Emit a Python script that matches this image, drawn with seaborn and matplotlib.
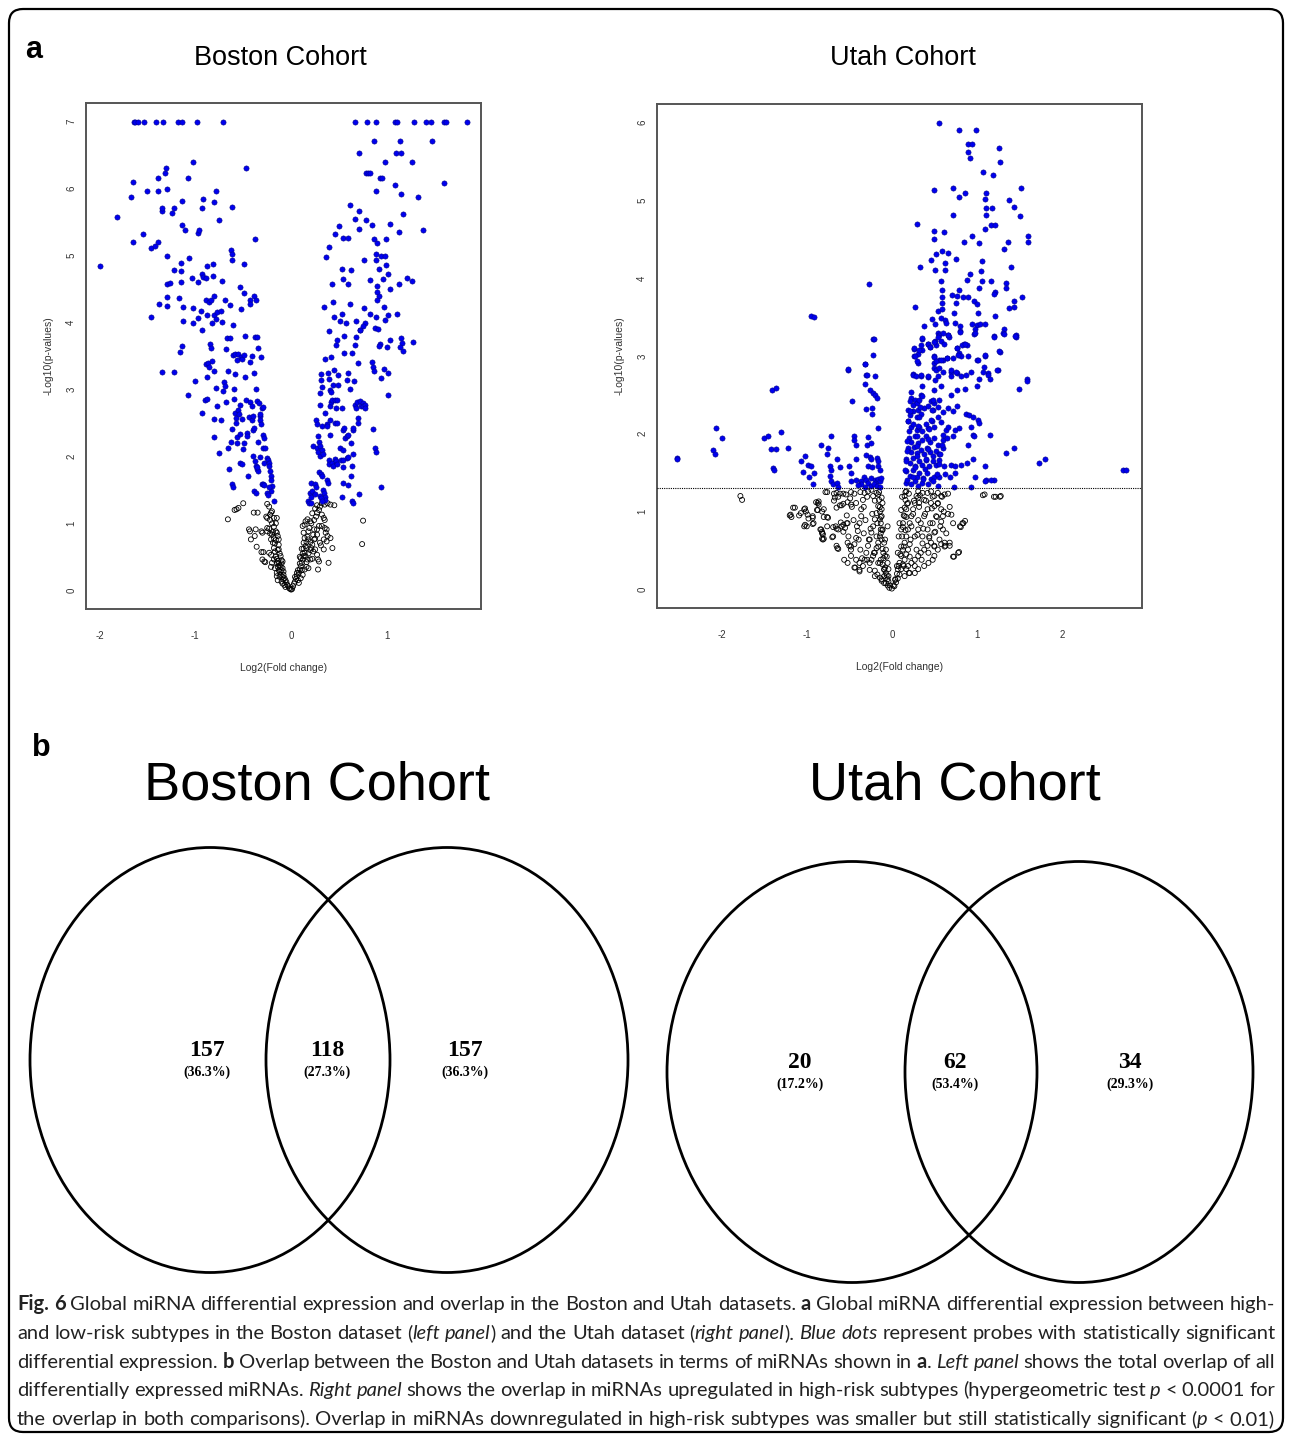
import numpy as np
import pandas as pd
import matplotlib
matplotlib.use("Agg")
import matplotlib.pyplot as plt
import seaborn as sns
from matplotlib.patches import Ellipse, FancyBboxPatch
from matplotlib.transforms import IdentityTransform

# ---------------- data ----------------
boston_sig = [
    (-1.64,7.0),(-1.63,7.0),(-1.60,7.0),(-1.53,7.0),(-1.41,7.0),(-1.34,7.0),(-1.18,7.0),(-1.14,7.0),(-0.98,7.0),(-0.71,7.0),
    (0.67,7.0),(0.79,7.0),(0.89,7.0),(1.08,7.0),(1.10,7.0),(1.28,7.0),(1.41,7.0),(1.46,7.0),(1.59,7.0),(1.61,7.0),(1.83,7.0),
    (-1.99,4.84),(-1.82,5.58),(-1.67,5.88),(-1.65,6.10),(-1.65,5.20),(-1.55,5.33),(-1.50,5.97),(-1.46,5.12),(-1.46,4.09),
    (-1.42,5.15),(-1.39,5.20),(-1.39,6.16),(-1.39,5.97),(-1.38,4.28),(-1.35,5.67),(-1.35,5.71),(-1.32,6.23),(-1.31,6.31),
    (-1.29,5.99),(-1.29,4.99),(-1.30,4.57),(-1.26,4.59),(-1.30,4.38),(-1.29,4.25),(-1.24,5.63),(-1.22,5.71),(-1.22,4.78),
    (-1.17,4.36),(-1.15,4.89),(-1.15,4.77),(-1.15,4.60),(-1.14,5.82),(-1.14,5.45),(-1.11,5.38),(-1.13,4.23),(-1.13,4.03),
    (-1.08,6.16),(-1.07,4.96),(-1.03,4.67),(-1.02,6.40),(-1.02,4.22),(-1.02,3.99),(-0.97,5.34),(-0.96,5.38),(-0.97,4.60),
    (-0.97,4.07),(-0.94,4.17),(-0.93,5.71),(-0.92,5.85),(-0.93,4.73),(-0.92,4.68),(-0.89,4.66),(-0.88,4.84),(-0.88,4.12),
    (-0.89,4.34),(-0.86,4.31),(-0.84,4.33),(-0.82,4.88),(-0.82,4.69),(-0.81,4.12),(-0.80,4.39),(-0.83,3.99),(-0.81,5.80),
    (-0.78,5.97),(-0.77,4.16),(-0.75,5.53),(-0.73,4.17),(-0.78,4.05),(-0.72,4.01),(-0.72,4.62),(-0.69,4.33),(-0.64,4.26),
    (-0.63,5.09),(-0.62,5.03),(-0.62,4.94),(-0.62,5.72),(-0.61,3.96),(-0.53,4.53),(-0.52,4.20),(-0.49,4.44),(-0.49,4.88),
    (-0.47,6.31),(-0.43,4.33),(-0.43,4.27),(-0.39,4.39),(-0.37,4.34),(-0.38,5.25),
    (0.86,6.71),(0.71,6.53),(0.78,6.23),(0.80,6.23),(0.82,6.23),(0.93,6.16),(0.95,6.16),(0.98,6.40),(0.88,5.97),(0.61,5.76),
    (0.71,5.66),(0.67,5.54),(0.78,5.53),(0.84,5.46),(0.71,5.40),(0.50,5.44),(0.46,5.32),(0.54,5.27),(0.59,5.27),(0.39,5.13),
    (0.36,4.98),(0.86,5.25),(0.90,5.19),(0.99,5.25),(1.03,5.47),(0.89,5.03),(0.94,4.99),(0.98,4.99),(0.76,4.93),(0.89,4.93),
    (0.53,4.80),(0.62,4.78),(0.99,4.86),(0.92,4.80),(0.54,4.65),(0.59,4.58),(1.01,4.73),(0.82,4.64),(0.96,4.65),(0.43,4.57),
    (0.90,4.55),(1.03,4.50),(0.90,4.46),(0.44,4.31),(0.61,4.28),(0.92,4.39),(0.90,4.34),(0.34,4.23),(0.45,4.09),(0.53,4.13),
    (0.51,4.02),(0.57,3.99),(0.68,4.02),(0.76,4.21),(0.82,4.13),(0.88,4.09),(0.97,4.23),(1.01,4.12),(0.98,4.04),(0.77,3.99),
    (0.75,3.95),(0.72,3.89),(0.87,3.92),(0.91,3.91),(0.39,3.87),
    (1.13,6.71),(1.47,6.71),(1.09,6.53),(1.15,6.53),(1.26,6.40),(1.08,6.05),(1.15,5.92),(1.32,5.88),(1.59,6.09),(1.17,5.62),
    (1.38,5.38),(1.12,5.35),(1.21,4.66),(1.26,4.62),(1.12,4.57),(1.10,4.13),(1.15,3.77),(1.27,3.71),(1.16,3.69),
    (1.14,3.64),(1.17,3.57),(1.03,3.74),(1.00,3.64),(0.93,3.68),(0.92,3.65),(1.01,3.24),(0.97,3.30),(1.01,2.91),(0.94,3.17),
    (0.85,3.33),(0.86,3.28),(0.84,3.41),(0.94,1.54),(0.85,2.41),(0.87,2.12),(0.88,2.07),
    (-1.35,3.26),(-1.22,3.26),(-1.16,3.56),(-1.14,3.65),(-1.08,2.92),(-1.00,3.13),(-0.93,3.89),(-0.93,2.65),(-0.89,3.38),
    (-0.87,3.39),(-0.86,3.33),(-0.88,3.18),(-0.90,2.85),(-0.88,2.86),(-0.85,3.68),(-0.84,3.62),(-0.83,3.42),(-0.80,2.29),
    (-0.80,2.56),(-0.80,3.28),(-0.78,3.02),(-0.77,2.75),(-0.75,2.05),(-0.73,2.54),(-0.71,2.97),(-0.70,3.11),(-0.69,3.05),
    (-0.68,3.60),(-0.68,2.82),(-0.66,2.12),(-0.66,3.28),(-0.67,3.77),(-0.64,3.77),(-0.65,1.81),(-0.63,2.22),(-0.62,2.41),
    (-0.62,1.59),(-0.61,1.55),(-0.61,3.52),(-0.59,3.53),(-0.60,3.00),(-0.60,2.86),(-0.59,2.65),(-0.58,2.57),(-0.58,2.50),
    (-0.57,3.44),(-0.55,3.53),(-0.59,3.23),(-0.57,2.29),(-0.56,2.20),(-0.55,2.69),(-0.54,2.64),(-0.53,2.77),(-0.53,2.34),
    (-0.53,1.90),(-0.51,1.89),(-0.52,3.49),(-0.51,3.46),(-0.49,3.52),(-0.51,2.56),(-0.50,2.11),(-0.49,2.20),(-0.48,3.80),
    (-0.48,3.18),(-0.47,2.85),(-0.46,2.35),(-0.46,2.31),(-0.45,1.71),(-0.44,2.59),(-0.43,3.41),(-0.43,2.81),(-0.41,2.76),
    (-0.41,3.50),(-0.41,2.54),(-0.40,2.60),(-0.40,2.01),(-0.40,2.40),(-0.39,2.42),(-0.39,3.24),(-0.38,3.78),(-0.36,3.78),
    (-0.38,1.93),(-0.37,1.85),(-0.36,1.81),(-0.35,1.78),(-0.36,1.84),(-0.39,1.49),(-0.37,1.46),(-0.37,3.00),(-0.36,2.83),
    (-0.35,3.62),(-0.34,2.80),(-0.35,2.21),(-0.33,2.60),(-0.32,2.55),(-0.32,2.64),(-0.31,2.49),(-0.31,3.49),(-0.32,1.99),
    (-0.30,1.59),(-0.29,1.59),(-0.28,1.58),(-0.29,2.32),(-0.28,2.28),(-0.30,2.72),(-0.29,2.74),(-0.29,2.12),(-0.27,2.12),
    (-0.28,1.90),(-0.25,1.98),(-0.24,1.94),(-0.23,1.90),(-0.23,1.86),(-0.22,1.78),(-0.21,1.70),(-0.21,1.64),(-0.20,1.56),
    (-0.21,1.49),(-0.23,1.54),(-0.25,1.45),(-0.24,1.42),(-0.18,1.33),
    (0.18,1.33),(0.19,1.30),(0.21,1.31),(0.20,1.46),(0.22,1.49),(0.21,1.40),(0.21,1.61),(0.23,2.16),(0.25,1.59),(0.26,1.55),
    (0.25,1.44),(0.26,2.55),(0.27,2.49),(0.27,2.12),(0.28,2.07),(0.30,2.01),(0.28,2.30),(0.29,2.21),(0.30,2.16),(0.29,1.76),
    (0.31,1.74),(0.32,1.71),(0.30,2.95),(0.30,2.77),(0.31,3.23),(0.31,3.14),(0.32,3.04),(0.32,2.45),(0.32,2.09),(0.33,2.04),
    (0.33,1.50),(0.34,1.45),(0.35,1.40),(0.35,1.35),(0.30,1.41),(0.31,1.38),(0.32,1.34),(0.35,3.45),(0.35,2.65),(0.37,2.49),
    (0.37,2.45),(0.37,1.65),(0.38,1.60),(0.38,3.24),(0.39,3.15),(0.39,1.95),(0.39,1.89),(0.40,2.76),(0.41,2.99),(0.42,2.96),
    (0.41,2.55),(0.41,2.32),(0.42,2.81),(0.43,2.85),(0.42,3.48),(0.43,1.90),(0.44,1.85),(0.44,3.07),(0.45,3.29),(0.46,1.96),
    (0.47,1.93),(0.48,1.89),(0.46,2.50),(0.48,2.50),(0.46,2.85),(0.48,2.85),(0.47,2.73),(0.47,3.67),(0.48,3.74),(0.49,3.21),
    (0.49,3.07),(0.51,2.12),(0.52,1.95),(0.54,1.94),(0.53,2.73),(0.54,2.40),(0.54,1.60),(0.54,1.84),(0.55,3.80),(0.55,2.43),
    (0.56,2.27),(0.58,2.31),(0.59,2.32),(0.58,1.98),(0.59,1.99),(0.58,3.14),(0.59,1.58),(0.59,3.24),(0.61,3.00),(0.62,1.70),
    (0.62,2.20),(0.63,1.85),(0.63,3.54),(0.64,2.40),(0.64,2.04),(0.65,2.42),(0.66,3.13),(0.67,2.77),(0.67,3.67),(0.68,3.79),
    (0.68,2.72),(0.69,2.81),(0.70,3.39),(0.70,2.57),(0.70,2.50),(0.72,3.89),(0.72,2.83),(0.73,2.75),(0.75,2.80),(0.75,2.75),
    (0.77,2.77),(0.77,2.72),(0.71,1.44),(0.63,1.33),(0.65,1.31),(0.53,1.39),(0.54,2.09),(0.55,3.54),
]

boston_ns = [
    (-0.66,1.06),(-0.59,1.20),(-0.57,1.21),(-0.55,1.23),(-0.50,1.30),(-0.44,0.91),(-0.43,0.88),(-0.42,0.76),(-0.39,1.16),
    (-0.35,1.16),(-0.37,0.91),(-0.38,0.81),(-0.36,0.65),(-0.31,0.88),(-0.30,0.86),(-0.31,0.57),(-0.29,0.57),(-0.30,0.46),
    (-0.28,0.43),(-0.27,0.42),(-0.25,1.29),(-0.23,1.25),(-0.26,1.10),(-0.25,1.08),(-0.22,1.13),(-0.21,1.16),(-0.20,1.18),
    (-0.22,1.05),(-0.18,1.08),(-0.15,1.08),(-0.25,0.93),(-0.25,0.88),(-0.23,0.92),(-0.22,0.85),(-0.20,0.83),(-0.21,0.76),
    (-0.19,0.71),(-0.18,0.63),(-0.17,0.58),(-0.23,0.56),(-0.21,0.53),(-0.21,0.35),(-0.20,0.41),(-0.18,0.46),(-0.16,0.88),
    (-0.15,0.86),(-0.14,0.81),(-0.13,0.76),(-0.13,0.68),(-0.13,0.61),(-0.12,0.55),(-0.11,0.51),(-0.15,0.41),(-0.14,0.35),
    (-0.13,0.30),(-0.15,0.21),(-0.14,0.15),(-0.10,0.45),(-0.10,0.40),(-0.09,0.33),(-0.08,0.28),(-0.08,0.23),(-0.07,0.18),
    (-0.06,0.15),(-0.05,0.12),(-0.04,0.08),(-0.03,0.06),(-0.02,0.03),(-0.01,0.02),(0.00,0.01),(0.01,0.02),(-0.11,0.23),
    (-0.10,0.13),(-0.07,0.08),(-0.09,0.43),(-0.17,0.33),(-0.15,0.26),(-0.12,0.20),(-0.09,0.10),(-0.06,0.05),
    (-0.16,0.50),(-0.15,0.47),(-0.14,0.44),(-0.13,0.40),(-0.12,0.37),(-0.12,0.28),(-0.11,0.35),(-0.10,0.30),(-0.09,0.20),
    (-0.08,0.16),(-0.17,0.70),(-0.18,0.78),(-0.16,0.75),(-0.19,0.87),(-0.18,0.95),(-0.20,1.00),(-0.16,1.00),(-0.14,0.60),
    (0.02,0.06),(0.03,0.10),(0.04,0.13),(0.05,0.17),(0.06,0.21),(0.08,0.26),(0.09,0.31),(0.10,0.36),(0.11,0.41),(0.12,0.46),
    (0.13,0.51),(0.14,0.56),(0.15,0.51),(0.17,0.46),(0.08,0.11),(0.10,0.18),(0.12,0.23),(0.14,0.31),(0.16,0.35),(0.18,0.33),
    (0.13,0.71),(0.14,0.78),(0.13,0.86),(0.12,0.96),(0.14,0.98),(0.15,1.03),(0.17,1.06),(0.20,1.03),(0.21,1.00),(0.18,0.76),
    (0.20,0.72),(0.21,0.63),(0.23,0.58),(0.20,0.46),(0.22,0.47),(0.24,0.76),(0.25,0.77),(0.24,0.91),(0.27,0.91),(0.29,0.96),
    (0.27,0.83),(0.25,0.61),(0.27,0.53),(0.28,0.46),(0.29,0.43),(0.30,0.71),(0.31,0.67),(0.27,1.16),(0.29,1.20),(0.30,1.25),
    (0.32,1.30),(0.35,1.28),(0.38,1.30),(0.41,1.28),(0.45,1.27),(0.32,1.13),(0.34,1.08),(0.35,1.05),(0.32,0.96),(0.35,0.93),
    (0.37,0.91),(0.36,0.86),(0.38,0.81),(0.41,0.78),(0.34,0.76),(0.37,0.73),(0.34,0.61),(0.28,0.31),(0.39,0.41),(0.43,0.63),
    (0.75,1.04),(0.74,0.69),(0.16,0.63),(0.11,0.30),(0.07,0.15),
    (0.04,0.20),(0.06,0.26),(0.07,0.30),(0.09,0.40),(0.10,0.48),(0.12,0.55),(0.13,0.62),(0.15,0.66),(0.16,0.72),(0.17,0.80),
    (0.18,0.88),(0.19,0.93),(0.11,0.62),(0.09,0.50),(0.16,0.42),(0.18,0.55),(0.20,0.60),(0.22,0.68),(0.23,0.83),(0.24,1.05),
    (0.26,1.10),(0.22,1.15),(0.25,1.22),(0.27,1.27),
]

utah_sig = [
    (0.55,6.00),(0.79,5.91),(0.99,5.91),(0.90,5.73),(0.94,5.73),(0.90,5.62),(0.92,5.54),(1.26,5.68),(1.27,5.50),(1.07,5.36),
    (1.19,5.33),(0.50,5.14),(0.72,5.16),(0.79,5.05),(0.86,5.10),(1.11,5.10),(1.09,5.02),(1.52,5.16),(1.38,5.00),(1.44,4.92),
    (1.51,4.80),(1.11,4.90),(1.18,4.90),(1.11,4.81),(0.72,4.81),(0.30,4.70),(1.16,4.68),(1.21,4.68),(1.10,4.63),(0.50,4.61),
    (0.61,4.60),(0.49,4.51),(0.94,4.54),(0.85,4.47),(1.02,4.45),(1.60,4.54),(1.60,4.47),(1.36,4.47),(1.32,4.37),(0.59,4.35),
    (0.52,4.31),(0.66,4.32),(0.46,4.24),(0.75,4.25),(0.63,4.20),(1.06,4.22),(0.33,4.14),(0.51,4.11),(0.62,4.11),(1.40,4.14),
    (1.05,4.09),(0.92,4.06),(0.88,3.98),(0.58,3.97),(1.06,3.97),(1.16,3.96),(-0.27,3.92),(1.34,3.94),(1.34,3.88),(1.02,3.88),
    (0.59,3.85),(0.79,3.85),(1.21,3.82),(1.20,3.80),(0.71,3.78),(0.77,3.77),(0.84,3.76),(0.89,3.76),(0.59,3.76),(1.53,3.76),
    (0.59,3.68),(0.97,3.71),(1.00,3.67),(0.75,3.68),(1.44,3.71),(1.43,3.63),(0.27,3.63),(0.54,3.58),(0.59,3.60),(1.38,3.62),
    (1.01,3.55),(0.73,3.55),(-0.95,3.52),(-0.91,3.50),(1.21,3.52),(0.47,3.47),(0.58,3.49),(0.62,3.46),(0.64,3.43),(0.74,3.43),
    (0.51,3.41),(0.94,3.41),(1.00,3.40),(1.04,3.41),(1.10,3.41),(0.38,3.38),(0.80,3.38),(0.80,3.32),(0.98,3.35),(0.97,3.28),
    (0.54,3.30),(0.56,3.27),(0.66,3.27),(0.67,3.25),(1.32,3.35),(1.31,3.29),(1.46,3.27),(1.46,3.25),(1.20,3.26),(0.36,3.22),
    (0.43,3.16),(0.45,3.12),(0.51,3.19),(0.52,3.14),(0.58,3.19),(0.61,3.16),(0.85,3.16),(0.88,3.14),(-0.22,3.22),(-0.21,3.22),
    (0.26,3.09),(0.36,3.08),(0.77,3.10),(0.79,3.04),(1.27,3.05),(1.09,3.00),(-0.22,3.01),(0.26,3.00),(0.31,3.02),(0.31,2.91),
    (0.50,3.00),(0.49,2.91),(0.56,2.95),(0.60,2.95),(0.65,2.97),(0.72,2.97),(0.81,3.00),(0.89,3.00),(1.00,2.95),(-0.52,2.82),
    (-0.31,2.90),(-0.30,2.75),(-0.20,2.74),(0.25,2.77),(0.34,2.74),(0.42,2.73),(0.54,2.74),(0.70,2.80),(0.76,2.78),(1.08,2.86),
    (1.13,2.78),(1.25,2.82),(1.59,2.70),
    (-2.53,1.69),(-2.53,1.67),(-2.07,2.07),(-2.00,1.94),(-2.10,1.79),(-2.08,1.74),(-1.41,2.56),(-1.36,2.59),(-1.30,2.02),
    (-1.50,1.95),(-1.45,1.97),(-1.42,1.80),(-1.36,1.80),(-1.22,1.82),(-1.40,1.56),(-1.39,1.53),(-1.07,1.65),(-1.02,1.72),
    (-0.99,1.60),(-0.95,1.59),(-0.92,1.50),(-1.04,1.51),(-0.97,1.45),(-0.93,1.35),(-0.83,1.86),(-0.75,1.82),(-0.71,1.97),
    (-0.76,1.74),(-0.65,1.68),(-0.73,1.58),(-0.72,1.54),(-0.73,1.46),(-0.71,1.39),(-0.69,1.36),(-0.65,1.37),(-0.63,1.32),
    (-0.61,1.57),(-0.51,2.83),(-0.47,2.42),(-0.44,1.97),(-0.44,1.92),(-0.42,1.85),(-0.42,1.68),(-0.50,1.59),(-0.48,1.50),
    (-0.48,1.39),(-0.42,1.40),(-0.36,1.39),(-0.31,2.90),(-0.32,2.64),(-0.29,2.76),(-0.26,2.56),(-0.22,2.52),(-0.23,2.33),
    (-0.23,2.26),(-0.30,2.32),(-0.20,2.50),(-0.18,2.46),(-0.16,2.07),(-0.28,1.96),(-0.29,1.86),(-0.24,1.88),(-0.30,1.73),
    (-0.26,1.70),(-0.24,1.67),(-0.28,1.58),(-0.23,1.57),(-0.17,1.69),(-0.16,1.65),(-0.16,1.58),(-0.14,1.54),(-0.33,1.45),
    (-0.30,1.41),(-0.24,1.43),(-0.20,1.41),(-0.18,1.39),(-0.16,1.42),(-0.14,1.39),(-0.13,1.43),(-0.28,1.37),(-0.24,1.33),
    (-0.21,1.35),(-0.17,1.33),(-0.14,1.32),(-0.32,1.32),(-0.36,1.36),(-0.40,1.34),
    (0.26,3.10),(0.27,3.00),(0.30,2.94),(0.32,3.08),(0.34,3.14),(0.36,3.23),(0.43,3.16),(0.45,3.12),(0.50,3.18),(0.54,3.25),
    (0.60,3.29),(0.66,3.27),(0.49,2.99),(0.52,2.94),(0.58,2.95),(0.65,2.97),(0.77,3.10),(0.82,3.14),(0.86,3.16),(0.78,3.01),
    (0.80,3.31),(0.98,3.29),(1.20,3.25),(1.32,3.28),(1.45,3.26),(1.01,2.95),(1.09,3.01),(1.26,3.06),(0.25,2.76),(0.28,2.74),
    (0.34,2.76),(0.43,2.74),(0.49,2.85),(0.52,2.82),(0.56,2.84),(0.60,2.80),(0.51,2.69),(0.58,2.62),(0.70,2.82),(0.70,2.74),
    (0.75,2.80),(0.81,2.74),(0.87,2.76),(0.93,2.80),(1.03,2.70),(1.07,2.79),(1.13,2.76),(1.15,2.70),(1.24,2.82),(1.50,2.57),
    (1.59,2.68),(0.70,2.50),(0.77,2.56),(0.86,2.57),(1.00,2.61),(0.22,2.46),(0.25,2.37),(0.27,2.44),(0.29,2.40),(0.32,2.44),
    (0.34,2.50),(0.19,2.31),(0.21,2.24),(0.25,2.29),(0.29,2.22),(0.31,2.30),(0.34,2.26),(0.38,2.33),(0.42,2.36),(0.46,2.42),
    (0.48,2.31),(0.50,2.39),(0.54,2.35),(0.56,2.44),(0.60,2.28),(0.66,2.33),(0.72,2.29),(0.77,2.36),(0.87,2.26),(0.91,2.24),
    (0.95,2.21),(1.01,2.18),(0.19,2.16),(0.22,2.09),(0.25,2.13),(0.29,2.05),(0.32,2.09),(0.36,2.03),(0.40,2.12),(0.43,2.07),
    (0.47,2.16),(0.50,2.09),(0.54,2.21),(0.58,2.15),(0.64,2.05),(0.66,2.09),(0.74,2.05),(0.79,2.07),(0.93,2.09),(1.02,2.14),
    (0.20,1.94),(0.23,1.90),(0.27,1.97),(0.31,1.88),(0.36,1.92),(0.40,1.97),(0.45,1.90),(0.49,1.94),(0.54,1.86),(0.60,1.92),
    (0.65,1.94),(0.72,1.97),(0.95,1.99),(0.97,1.97),(1.15,1.98),(0.19,1.82),(0.23,1.77),(0.26,1.83),(0.30,1.75),(0.34,1.79),
    (0.38,1.74),(0.41,1.82),(0.45,1.76),(0.48,1.72),(0.52,1.78),(0.56,1.74),(0.60,1.82),(0.90,1.86),(1.34,1.75),(1.43,1.82),
    (0.17,1.67),(0.21,1.62),(0.25,1.69),(0.27,1.58),(0.32,1.65),(0.36,1.60),(0.40,1.66),(0.44,1.58),(0.48,1.65),(0.52,1.60),
    (0.56,1.66),(0.61,1.59),(0.70,1.60),(0.74,1.58),(0.81,1.60),(0.88,1.62),(0.95,1.67),(1.73,1.62),(1.80,1.68),(2.72,1.54),
    (2.75,1.54),(1.09,1.59),(1.11,1.40),(1.20,1.40),(0.17,1.52),(0.21,1.46),(0.25,1.54),(0.29,1.45),(0.32,1.50),(0.37,1.43),
    (0.41,1.49),(0.46,1.42),(0.50,1.45),(0.56,1.44),(0.62,1.48),(0.68,1.45),(0.74,1.50),(0.98,1.45),(0.17,1.37),(0.22,1.35),
    (0.27,1.39),(0.31,1.33),(0.36,1.37),(0.42,1.35),(0.48,1.39),(0.54,1.33),(0.73,1.32),(0.93,1.32),(1.10,1.39),(1.17,1.40),
    (0.18,1.40),(0.16,1.53),(0.17,1.65),(0.18,1.78),(0.18,1.91),(0.20,2.03),(0.19,2.16),(0.21,2.29),(0.21,2.42),(0.23,2.54),
    (0.25,1.44),(0.27,1.57),(0.29,1.72),(0.29,1.84),(0.30,1.97),(0.31,2.10),(0.32,2.22),(0.33,2.35),(0.35,2.48),(0.36,2.61),
    (0.37,1.42),(0.39,1.55),(0.40,1.67),(0.42,1.80),(0.43,1.93),(0.44,2.06),(0.46,2.18),(0.47,2.31),(0.48,2.44),(0.49,2.56),
    (0.53,1.48),(0.55,1.61),(0.57,1.74),(0.59,1.86),(0.60,1.99),
]

utah_ns = [
    (-1.78,1.20),(-1.76,1.15),(-1.19,0.96),(-1.18,0.93),(-1.14,1.05),(-1.07,0.98),(-1.03,1.03),(-1.01,1.00),(-0.99,0.96),
    (-0.98,0.91),(-1.02,0.83),(-1.00,0.81),(-0.92,0.85),(-0.93,0.94),(-0.86,1.13),(-0.86,1.09),(-0.80,1.03),(-0.83,0.77),
    (-0.81,0.71),(-0.80,0.65),(-0.75,0.92),(-0.76,0.81),(-0.76,1.25),(-0.67,1.18),(-0.65,1.24),(-0.61,1.23),(-0.54,1.22),
    (-0.48,1.25),(-0.44,1.23),(-0.65,1.05),(-0.61,1.08),(-0.57,1.10),(-0.52,1.12),(-0.48,1.09),(-0.42,1.11),(-0.69,0.68),
    (-0.63,0.77),(-0.60,0.86),(-0.57,0.83),(-0.55,0.79),(-0.52,0.85),(-0.65,0.56),(-0.63,0.52),(-0.52,0.60),(-0.50,0.56),
    (-0.48,0.51),(-0.44,0.58),(-0.42,0.66),(-0.40,0.75),(-0.38,0.85),(-0.36,0.94),(-0.36,1.03),(-0.34,1.15),(-0.32,1.24),
    (-0.28,1.26),(-0.24,1.28),(-0.22,1.20),(-0.18,1.24),(-0.16,1.22),(-0.43,0.28),(-0.38,0.25),(-0.34,0.30),(-0.32,0.38),
    (-0.30,0.47),(-0.28,0.56),(-0.26,0.64),(-0.24,0.73),(-0.22,0.81),(-0.20,0.90),(-0.18,0.98),(-0.16,1.07),(-0.26,0.34),
    (-0.24,0.38),(-0.22,0.43),(-0.20,0.47),(-0.18,0.53),(-0.16,0.60),(-0.14,0.68),(-0.13,0.77),(-0.13,0.85),(-0.12,0.94),
    (-0.12,1.03),(-0.11,1.11),(-0.12,1.18),(-0.20,0.24),(-0.17,0.19),(-0.14,0.15),(-0.12,0.11),(-0.09,0.08),(-0.05,0.05),
    (-0.03,0.02),(0.00,0.01),(-0.16,0.34),(-0.13,0.38),(-0.11,0.32),(-0.09,0.26),(-0.09,0.17),(-0.07,0.21),(-0.05,0.13),
    (-0.11,0.77),(-0.09,0.60),(-0.08,0.43),(-0.07,0.51),(-0.05,0.34),(-0.04,0.26),(-0.56,0.38),(-0.52,0.34),(-0.42,0.38),
    (-0.38,0.34),(-0.48,0.43),(-0.89,1.12),(-0.87,1.02),(-0.84,0.77),(-0.82,0.72),(-0.82,0.65),(-0.69,0.80),(-0.65,0.78),
    (-0.02,0.05),(-0.04,0.10),(-0.06,0.18),(-0.08,0.28),(-0.10,0.40),(-0.11,0.52),(-0.12,0.64),(-0.13,0.72),(-0.14,0.90),
    (-0.14,1.00),(-0.15,1.15),(-0.15,1.25),
    (-1.16,1.05),(-1.20,0.95),(-1.09,0.95),(-1.02,1.04),(-1.03,0.81),(-0.93,0.92),(-0.93,0.84),(-0.87,1.11),(-0.88,1.02),
    (-0.82,1.00),(-0.80,0.93),(-0.82,0.74),(-0.81,0.64),(-0.76,0.93),(-0.78,1.25),(-0.68,1.23),(-0.68,1.14),(-0.66,0.81),
    (-0.64,0.53),(-0.70,0.67),(-0.63,1.19),(-0.59,1.08),(-0.57,1.23),(-0.59,0.81),(-0.57,0.74),(-0.53,0.95),(-0.53,0.85),
    (-0.51,0.68),(-0.49,1.17),(-0.47,1.06),(-0.48,0.55),(-0.45,0.89),(-0.44,0.28),(-0.41,0.81),(-0.39,0.64),(-0.38,0.23),
    (-0.37,1.25),(-0.37,0.51),(-0.35,0.40),(-0.33,0.72),(-0.33,1.06),(-0.31,0.89),(-0.29,1.19),(-0.29,0.38),(-0.27,0.64),
    (-0.26,0.25),(-0.25,0.78),(-0.23,0.97),(-0.21,0.47),(-0.20,1.14),(-0.20,0.17),(-0.18,0.68),(-0.17,0.85),(-0.16,0.55),
    (-0.14,0.34),(-0.14,1.06),(-0.13,0.93),(-0.12,0.13),(-0.11,0.76),(-0.10,0.47),(-0.09,0.25),(-0.08,0.64),(-0.07,0.08),
    (-0.06,0.42),(-0.05,0.81),(-0.04,0.17),
    (0.03,0.04),(0.05,0.09),(0.07,0.14),(0.09,0.19),(0.11,0.26),(0.13,0.32),(0.15,0.38),(0.17,0.45),(0.19,0.51),(0.21,0.58),
    (0.07,0.26),(0.09,0.34),(0.11,0.43),(0.13,0.51),(0.15,0.60),(0.17,0.68),(0.19,0.77),(0.21,0.85),(0.23,0.94),(0.25,1.03),
    (0.27,1.11),(0.29,1.20),(0.31,1.26),(0.11,0.77),(0.13,0.85),(0.15,0.94),(0.17,1.03),(0.19,1.11),(0.15,1.20),(0.17,1.26),
    (0.23,0.34),(0.27,0.38),(0.31,0.43),(0.34,0.47),(0.38,0.51),(0.42,0.56),(0.46,0.60),(0.50,0.56),(0.54,0.51),(0.58,0.58),
    (0.62,0.60),(0.68,0.60),(0.27,0.68),(0.31,0.77),(0.34,0.85),(0.38,0.94),(0.42,1.03),(0.46,1.11),(0.50,1.20),(0.54,1.24),
    (0.58,1.20),(0.62,1.22),(0.66,1.23),(0.36,0.68),(0.42,0.77),(0.48,0.85),(0.52,0.94),(0.58,0.87),(0.60,0.77),(0.50,0.73),
    (0.44,0.66),(0.32,1.11),(0.38,1.15),(0.42,1.24),(0.46,1.26),(0.36,1.24),(0.31,1.18),(0.50,0.43),(0.48,0.38),(0.43,0.34),
    (0.38,0.30),(0.31,0.26),(0.27,0.21),(0.70,0.96),(0.72,0.85),(0.73,0.42),(0.79,0.48),(0.68,0.56),(0.63,0.56),(0.81,0.80),
    (0.83,0.85),(0.86,0.88),(1.09,1.22),(1.22,1.19),(1.28,1.20),(0.50,1.07),(0.54,1.11),(0.58,1.03),(0.60,0.94),(0.17,0.26),
    (0.19,0.30),(0.21,0.21),(0.15,0.17),
    (0.02,0.05),(0.04,0.12),(0.06,0.20),(0.08,0.30),(0.10,0.45),(0.11,0.55),(0.12,0.68),(0.13,0.80),(0.14,0.95),(0.15,1.05),
    (0.16,1.15),(0.16,1.25),
    (0.04,0.13),(0.06,0.30),(0.07,0.47),(0.08,0.68),(0.09,0.85),(0.11,1.02),(0.12,1.19),(0.14,0.30),(0.14,0.55),(0.16,0.76),
    (0.17,0.93),(0.18,1.10),(0.20,1.23),(0.20,0.21),(0.21,0.42),(0.22,0.64),(0.23,0.81),(0.25,0.97),(0.26,1.14),(0.27,0.30),
    (0.29,0.51),(0.30,0.70),(0.31,0.89),(0.32,1.06),(0.33,1.21),(0.35,0.38),(0.36,0.59),(0.37,0.78),(0.39,0.97),(0.40,1.14),
    (0.43,0.47),(0.44,0.68),(0.45,0.85),(0.47,1.04),(0.48,1.19),(0.50,0.55),(0.51,0.74),(0.53,0.93),(0.54,1.10),(0.56,0.64),
    (0.57,0.81),(0.59,1.19),(0.61,1.00),(0.62,0.55),(0.64,0.72),(0.66,0.97),(0.68,1.06),(0.72,0.42),(0.78,0.47),(0.80,0.81),
    (0.84,0.85),(1.07,1.21),(1.20,1.19),(1.27,1.19),
]

boston_xticks = [-2, -1, 0, 1]
boston_yticks = [0, 1, 2, 3, 4, 5, 6, 7]
utah_xticks = [-2, -1, 0, 1, 2]
utah_yticks = [0, 1, 2, 3, 4, 5, 6]
utah_cutoff = 1.3

boston_venn_counts = [157, 118, 157]
boston_venn_pct = ["36.3%", "27.3%", "36.3%"]
utah_venn_counts = [20, 62, 34]
utah_venn_pct = ["17.2%", "53.4%", "29.3%"]

cohort_titles = ["Boston Cohort", "Utah Cohort"]

caption_lines = [
    [("Fig. 6", "b"), (" Global miRNA differential expression and overlap in the Boston and Utah datasets. ", "n"),
     ("a", "b"), (" Global miRNA differential expression between high-", "n")],
    [("and low-risk subtypes in the Boston dataset (", "n"), ("left panel", "i"), (") and the Utah dataset (", "n"),
     ("right panel", "i"), ("). ", "n"), ("Blue dots", "i"), (" represent probes with statistically significant", "n")],
    [("differential expression. ", "n"), ("b", "b"),
     (" Overlap between the Boston and Utah datasets in terms of miRNAs shown in ", "n"), ("a", "b"), (". ", "n"),
     ("Left panel", "i"), (" shows the total overlap of all", "n")],
    [("differentially expressed miRNAs. ", "n"), ("Right panel", "i"),
     (" shows the overlap in miRNAs upregulated in high-risk subtypes (hypergeometric test ", "n"), ("p", "i"),
     (" < 0.0001 for", "n")],
    [("the overlap in both comparisons). Overlap in miRNAs downregulated in high-risk subtypes was smaller but still statistically significant (", "n"),
     ("p", "i"), (" < 0.01)", "n")],
]

# ---------------- figure ----------------
sns.set_style("white")
plt.rcParams['font.family'] = ['Liberation Sans', 'DejaVu Sans']
plt.rcParams['text.color'] = 'black'
plt.rcParams['axes.labelcolor'] = 'black'

W, H = 1290, 1434
fig = plt.figure(figsize=(W / 100, H / 100), dpi=100)


def px_axes(l, t, r, b):
    return fig.add_axes([l / W, 1 - b / H, (r - l) / W, (b - t) / H])


def volcano(ax, sig, ns, xlim, ylim, xticks, yticks, cutoff=None):
    ns_df = pd.DataFrame(ns, columns=["lfc", "nlp"])
    sig_df = pd.DataFrame(sig, columns=["lfc", "nlp"])
    sns.scatterplot(data=ns_df, x="lfc", y="nlp", ax=ax, marker="o", s=13,
                    facecolors="none", edgecolor="black", linewidth=0.6, zorder=2)
    sns.scatterplot(data=sig_df, x="lfc", y="nlp", ax=ax, marker="o", s=14,
                    color="#0000ee", edgecolor="#00008a", linewidth=0.4, zorder=3)
    if cutoff is not None:
        ax.axhline(cutoff, color="black", ls=(0, (1, 1)), lw=0.8, zorder=4)
    ax.set_xlim(xlim)
    ax.set_ylim(ylim)
    ax.set_xticks(xticks)
    ax.set_xticklabels([str(t) for t in xticks])
    ax.set_yticks(yticks)
    ax.set_yticklabels([str(t) for t in yticks])
    ax.tick_params(axis="both", direction="out", length=5, width=0.8, color="#555",
                   labelsize=7, labelcolor="#333")
    ax.tick_params(axis="x", pad=11)
    ax.tick_params(axis="y", pad=2)
    for lab in ax.get_yticklabels():
        lab.set_rotation(90)
        lab.set_va("center")
    for sp in ax.spines.values():
        sp.set_visible(True)
        sp.set_color("#555")
        sp.set_linewidth(1.4)
    ax.set_xlabel("Log2(Fold change)", fontsize=7.5, color="#333", labelpad=16)
    ax.set_ylabel("-Log10(p-values)", fontsize=7.5, color="#333", labelpad=9)
    ax.grid(False)


ax_b = px_axes(86, 103, 481, 609)
volcano(ax_b, boston_sig, boston_ns, (-2.14, 1.98), (-0.28, 7.28), boston_xticks, boston_yticks)

ax_u = px_axes(657, 104, 1142, 608)
volcano(ax_u, utah_sig, utah_ns, (-2.76, 2.94), (-0.24, 6.24), utah_xticks, utah_yticks, cutoff=utah_cutoff)

# overlay in pixel coordinates for titles, Venn diagrams, border and caption
ov = fig.add_axes([0, 0, 1, 1], zorder=-1)
ov.set_xlim(0, W)
ov.set_ylim(H, 0)
ov.axis("off")

ov.add_patch(FancyBboxPatch((9, 9), 1274, 1423, boxstyle="round,pad=0,rounding_size=14",
                            lw=1.6, ec="black", fc="none"))

ov.text(25, 58, "a", fontsize=22, fontweight="bold", ha="left", va="baseline", color="black")
ov.text(280, 58, cohort_titles[0], fontsize=19.5, ha="center", va="center", color="black")
ov.text(903, 58, cohort_titles[1], fontsize=19.5, ha="center", va="center", color="black")

ov.text(32, 756, "b", fontsize=22, fontweight="bold", ha="left", va="baseline", color="black")
ov.text(317, 786, cohort_titles[0], fontsize=39, ha="center", va="center", color="black")
ov.text(955, 786, cohort_titles[1], fontsize=39, ha="center", va="center", color="black")

# Venn ellipses
for cx, cy, w, h in [(210, 1060, 360, 425), (447, 1060, 362, 425),
                     (852, 1072, 370, 421), (1079, 1072, 348, 421)]:
    ov.add_patch(Ellipse((cx, cy), w, h, fill=False, ec="black", lw=2.0))

serif = ["Liberation Serif", "DejaVu Serif"]
for xs, y0, counts, pcts in [((207, 327, 465), 1050, boston_venn_counts, boston_venn_pct),
                              ((800, 955, 1130), 1062, utah_venn_counts, utah_venn_pct)]:
    for x, c, p in zip(xs, counts, pcts):
        ov.text(x, y0, str(c), family=serif, fontsize=17, fontweight="bold", ha="center", va="center",
                color="black")
        ov.text(x, y0 + 22, f"({p})", family=serif, fontsize=10, fontweight="bold", ha="center", va="center",
                color="black")

# caption with justified lines
renderer = fig.canvas.get_renderer()
cap_family = ["Lato", "DejaVu Sans"]


def style_kw(st):
    return dict(fontweight="bold" if st == "b" else "normal",
                fontstyle="italic" if st == "i" else "normal")


def measure(text, st, size):
    t = fig.text(0, 0, text, fontsize=size, family=cap_family, **style_kw(st))
    w = t.get_window_extent(renderer).width
    t.remove()
    return w


def words_of(line):
    words = [[]]
    for txt, st in line:
        parts = txt.split(" ")
        for i, p in enumerate(parts):
            if i > 0:
                words.append([])
            if p:
                words[-1].append((p, st))
    return [w for w in words if w]


x0, x1 = 17, 1275
cap_size = 10.0
last_words = words_of(caption_lines[-1])
sp10 = measure("a a", "n", cap_size) - measure("aa", "n", cap_size)
nat = sum(sum(measure(p, s, cap_size) for p, s in w) for w in last_words) + sp10 * (len(last_words) - 1)
cap_size = cap_size * (x1 - x0) / nat
space_w = measure("a a", "n", cap_size) - measure("aa", "n", cap_size)

baselines = [1310, 1339, 1368, 1396, 1425]
for li, (line, yb) in enumerate(zip(caption_lines, baselines)):
    words = words_of(line)
    widths = [sum(measure(p, s, cap_size) for p, s in w) for w in words]
    if li < len(caption_lines) - 1 and len(words) > 1:
        gap = (x1 - x0 - sum(widths)) / (len(words) - 1)
    else:
        gap = space_w
    x = x0
    for w, ww in zip(words, widths):
        xx = x
        for p, s in w:
            fig.text(xx, H - yb, p, transform=IdentityTransform(), fontsize=cap_size,
                     family=cap_family, color="#222", ha="left", va="baseline", **style_kw(s))
            xx += measure(p, s, cap_size)
        x += ww + gap

fig.savefig("out.png", dpi=100)
